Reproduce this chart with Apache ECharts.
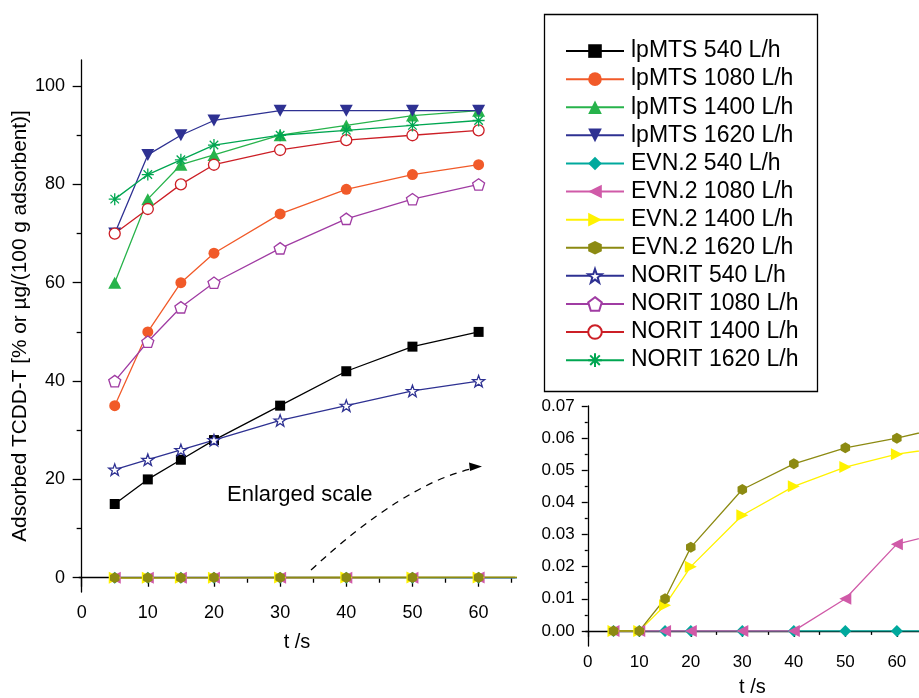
<!DOCTYPE html>
<html><head><meta charset="utf-8">
<script src="https://cdn.jsdelivr.net/npm/echarts@6/dist/echarts.min.js"></script>
<style>html,body{margin:0;padding:0;background:#fff}#c{width:919px;height:698px}</style>
</head><body><div id="c"></div>
<script>
// ---- data ----
const times = [5, 10, 15, 20, 30, 40, 50, 60];
const timesEvn = [5, 10, 15, 20, 30, 40, 50, 60, 70];
const lpMTS540 = [15, 20, 24, 28, 35, 42, 47, 50];
const lpMTS1080 = [35, 50, 60, 66, 74, 79, 82, 84];
const lpMTS1400 = [60, 77, 84, 86, 90, 92, 94, 95];
const lpMTS1620 = [70, 86, 90, 93, 95, 95, 95, 95];
const evn540 = [0, 0, 0, 0, 0, 0, 0, 0, 0];
const evn1080 = [0, 0, 0, 0, 0, 0, 0.01, 0.027, 0.031];
const evn1400 = [0, 0, 0.008, 0.02, 0.036, 0.045, 0.051, 0.055, 0.0573];
const evn1620 = [0, 0, 0.01, 0.026, 0.044, 0.052, 0.057, 0.060, 0.0637];
const norit540 = [22, 24, 26, 28, 32, 35, 38, 40];
const norit1080 = [40, 48, 55, 60, 67, 73, 77, 80];
const norit1400 = [70, 75, 80, 84, 87, 89, 90, 91];
const norit1620 = [77, 82, 85, 88, 90, 91, 92, 93];
const mainXTicks = [0, 10, 20, 30, 40, 50, 60];
const mainXMinor = [5, 15, 25, 35, 45, 55, 65];
const mainYTicks = [0, 20, 40, 60, 80, 100];
const mainYMinor = [10, 30, 50, 70, 90];
const insetXTicks = [0, 10, 20, 30, 40, 50, 60];
const insetXMinor = [5, 15, 25, 35, 45, 55];
const insetYTicks = [0, 0.01, 0.02, 0.03, 0.04, 0.05, 0.06, 0.07];
const insetYMinor = [0.005, 0.015, 0.025, 0.035, 0.045, 0.055, 0.065];
const names = ['lpMTS 540 L/h', 'lpMTS 1080 L/h', 'lpMTS 1400 L/h', 'lpMTS 1620 L/h',
  'EVN.2 540 L/h', 'EVN.2 1080 L/h', 'EVN.2 1400 L/h', 'EVN.2 1620 L/h',
  'NORIT 540 L/h', 'NORIT 1080 L/h', 'NORIT 1400 L/h', 'NORIT 1620 L/h'];

// ---- styles ----
const FONT = 'Liberation Sans, Arial, sans-serif';
const STAR = 'path://M0,-10L2.35,-3.24L9.51,-3.09L3.8,1.24L5.88,8.09L0,4L-5.88,8.09L-3.8,1.24L-9.51,-3.09L-2.35,-3.24Z';
const PENT = 'path://M0,-10L9.51,-3.09L5.88,8.09L-5.88,8.09L-9.51,-3.09Z';
const HEX = 'path://M0,-10L8.66,-5L8.66,5L0,10L-8.66,5L-8.66,-5Z';
const AST = 'path://M0,-10L0,10M-10,0L10,0M-7.07,-7.07L7.07,7.07M-7.07,7.07L7.07,-7.07';

const styles = [
  {c: '#000000', sym: 'rect', size: 10},
  {c: '#f15a29', sym: 'circle', size: 11},
  {c: '#27b34b', sym: 'triangle', size: [13, 12]},
  {c: '#2e3192', sym: 'triangle', size: [13, 12], rot: 180},
  {c: '#00a99d', sym: 'diamond', size: 12},
  {c: '#d05aa8', sym: 'triangle', size: [12, 12], rot: 90},
  {c: '#fff200', sym: 'triangle', size: [12, 12], rot: -90},
  {c: '#8c8a12', sym: HEX, size: 11},
  {c: '#2e3192', sym: STAR, size: 12, open: true},
  {c: '#a03ca3', sym: PENT, size: 12, open: true},
  {c: '#cc1f26', sym: 'circle', size: 11, open: true},
  {c: '#00a651', sym: AST, size: 12, stroke: true}
];

function mk(i, xs, ys, xi, yi) {
  const s = styles[i];
  let itemStyle;
  if (s.stroke) itemStyle = {color: 'rgba(255,255,255,0)', borderColor: s.c, borderWidth: 1.3};
  else if (s.open) itemStyle = {color: '#ffffff', borderColor: s.c, borderWidth: 1.3};
  else itemStyle = {color: s.c, borderWidth: 0};
  return {
    type: 'line', name: names[i], xAxisIndex: xi, yAxisIndex: yi,
    data: xs.map((t, k) => [t, ys[k]]),
    symbol: s.sym, symbolSize: s.size, symbolRotate: s.rot || 0, symbolKeepAspect: true,
    showAllSymbol: true, clip: true, animation: false,
    lineStyle: {color: s.c, width: 1.3},
    itemStyle: itemStyle,
    emphasis: {disabled: true}
  };
}

const allData = [lpMTS540, lpMTS1080, lpMTS1400, lpMTS1620, evn540, evn1080, evn1400, evn1620,
  norit540, norit1080, norit1400, norit1620];
const series = [];
allData.forEach((d, i) => {
  series.push(mk(i, (i >= 4 && i <= 7) ? timesEvn : times, d, 0, 0));
});
[4, 5, 6, 7].forEach(i => series.push(mk(i, timesEvn, allData[i], 2, 2)));

const axLine = {show: true, lineStyle: {color: '#000', width: 1.3}};
const lab = (sz) => ({color: '#000', fontSize: sz, fontFamily: FONT});

const mainXR = {min: -0.4, max: 65.5};
const mainYR = {min: -2.9, max: 105.3};
const insXR = {min: -0.4, max: 64.3};
const insYR = {min: -0.0047, max: 0.07};

const option = {
  backgroundColor: '#fff',
  animation: false,
  grid: [
    {left: 79, top: 60, width: 436, height: 532},
    {left: 585.7, top: 406, right: 0, height: 244}
  ],
  xAxis: [
    Object.assign({type: 'value', gridIndex: 0, position: 'bottom', splitLine: {show: false},
      axisLine: axLine, name: 't /s', nameLocation: 'middle', nameGap: 40,
      nameTextStyle: lab(20),
      axisTick: {show: true, inside: false, length: 9, customValues: mainXTicks, lineStyle: {color: '#000', width: 1.3}},
      axisLabel: Object.assign({customValues: mainXTicks, margin: 12}, lab(18))}, mainXR),
    Object.assign({type: 'value', gridIndex: 0, position: 'bottom', splitLine: {show: false},
      axisLine: {show: false},
      axisTick: {show: true, length: 5, customValues: mainXMinor, lineStyle: {color: '#000', width: 1.3}},
      axisLabel: {show: false}}, mainXR),
    Object.assign({type: 'value', gridIndex: 1, position: 'bottom', splitLine: {show: false},
      axisLine: axLine, name: 't /s', nameLocation: 'middle', nameGap: 31,
      nameTextStyle: lab(20),
      axisTick: {show: true, length: 6, customValues: insetXTicks, lineStyle: {color: '#000', width: 1.3}},
      axisLabel: Object.assign({customValues: insetXTicks, margin: 8}, lab(17))}, insXR),
    Object.assign({type: 'value', gridIndex: 1, position: 'bottom', splitLine: {show: false},
      axisLine: {show: false},
      axisTick: {show: true, length: 4, customValues: insetXMinor, lineStyle: {color: '#000', width: 1.3}},
      axisLabel: {show: false}}, insXR)
  ],
  yAxis: [
    Object.assign({type: 'value', gridIndex: 0, position: 'left', splitLine: {show: false},
      axisLine: axLine, name: 'Adsorbed TCDD-T [% or µg/(100 g adsorbent)]', nameLocation: 'middle', nameGap: 47,
      nameTextStyle: lab(20.8),
      axisTick: {show: true, length: 9, customValues: mainYTicks, lineStyle: {color: '#000', width: 1.3}},
      axisLabel: Object.assign({customValues: mainYTicks, margin: 14}, lab(18))}, mainYR),
    Object.assign({type: 'value', gridIndex: 0, position: 'left', splitLine: {show: false},
      axisLine: {show: false},
      axisTick: {show: true, length: 5, customValues: mainYMinor, lineStyle: {color: '#000', width: 1.3}},
      axisLabel: {show: false}}, mainYR),
    Object.assign({type: 'value', gridIndex: 1, position: 'left', splitLine: {show: false},
      axisLine: axLine,
      axisTick: {show: true, length: 6, customValues: insetYTicks, lineStyle: {color: '#000', width: 1.3}},
      axisLabel: Object.assign({customValues: insetYTicks, margin: 11, formatter: v => v.toFixed(2)}, lab(17))}, insYR),
    Object.assign({type: 'value', gridIndex: 1, position: 'left', splitLine: {show: false},
      axisLine: {show: false},
      axisTick: {show: true, length: 3, customValues: insetYMinor, lineStyle: {color: '#000', width: 1.3}},
      axisLabel: {show: false}}, insYR)
  ],
  legend: {
    data: names, orient: 'vertical', left: 565, top: 37, padding: 0, itemGap: 0,
    itemWidth: 58, itemHeight: 17, selectedMode: false,
    textStyle: {color: '#000', fontSize: 23, fontFamily: FONT, lineHeight: 28.1, padding: [0, 0, 0, 2]}
  },
  graphic: [
    {type: 'rect', shape: {x: 544.5, y: 14.5, width: 273, height: 377}, style: {fill: 'none', stroke: '#000', lineWidth: 1.3}, silent: true},
    {type: 'text', x: 227, y: 495, style: {text: 'Enlarged scale', font: '22px ' + FONT, fill: '#000', verticalAlign: 'middle'}, silent: true},
    {type: 'bezierCurve', shape: {x1: 311, y1: 570, x2: 471, y2: 469, cpx1: 403, cpy1: 485}, style: {stroke: '#000', fill: 'none', lineWidth: 1.3, lineDash: [7, 6]}, silent: true},
    {type: 'polygon', shape: {points: [[482, 466.5], [469, 462.5], [470, 471]]}, style: {fill: '#000'}, silent: true}
  ],
  series: series
};
const chart = echarts.init(document.getElementById('c'), null, {renderer: 'canvas'});
chart.setOption(option);
</script></body></html>
